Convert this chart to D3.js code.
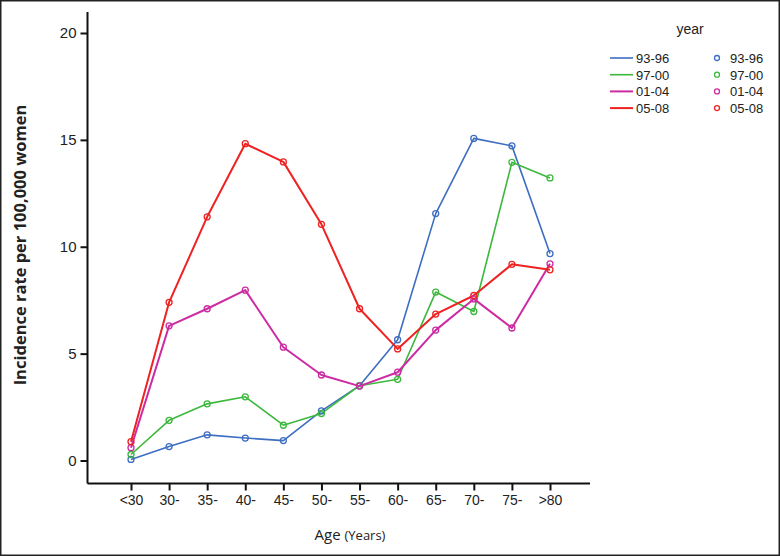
<!DOCTYPE html>
<html>
<head>
<meta charset="utf-8">
<script src="https://cdn.jsdelivr.net/npm/d3@7"></script>
<style>
  body { margin: 0; background: #fff; }
  svg { display: block; font-family: "Liberation Sans", Arial, sans-serif; }
</style>
</head>
<body>
<div id="chart"></div>
<script>
// age groups on the x axis
var ageGroups = ["<30", "30-", "35-", "40-", "45-", "50-", "55-", "60-", "65-", "70-", "75-", ">80"];
var yTicks = [0, 5, 10, 15, 20];

// incidence per 100,000 women, one array per period
var years = ["93-96", "97-00", "01-04", "05-08"];
var rate9396 = [0.05, 0.65, 1.2, 1.05, 0.93, 2.32, 3.5, 5.65, 11.55, 15.07, 14.72, 9.68];
var rate9700 = [0.28, 1.88, 2.65, 2.98, 1.65, 2.2, 3.5, 3.8, 7.88, 6.97, 13.95, 13.22];
var rate0104 = [0.6, 6.3, 7.1, 7.97, 5.3, 4.0, 3.48, 4.13, 6.1, 7.56, 6.2, 9.2];
var rate0508 = [0.88, 7.4, 11.4, 14.82, 13.97, 11.05, 7.1, 5.22, 6.85, 7.72, 9.18, 8.92];

var seriesList = [rate9396, rate9700, rate0104, rate0508];
var colors = ["#3e6ec2", "#3cb83c", "#cc2ba3", "#ee2222"];
var widths = [1.6, 1.6, 2, 2];

var W = 780, H = 556;
var svg = d3.select("#chart").append("svg")
  .attr("width", W)
  .attr("height", H);

// frame round the picture
svg.append("rect")
  .attr("x", 0.75).attr("y", 0.75)
  .attr("width", W - 1.5).attr("height", H - 1.5)
  .attr("fill", "#fff")
  .attr("stroke", "#222")
  .attr("stroke-width", 1.5);

var x = d3.scalePoint()
  .domain(ageGroups)
  .range([131, 550]);

var y = d3.scaleLinear()
  .domain([0, 20])
  .range([460.5, 33]);

var axisX = 87.5, axisY = 483.5;

// axes lines
svg.append("line")
  .attr("x1", axisX).attr("x2", axisX)
  .attr("y1", 12).attr("y2", axisY)
  .attr("stroke", "#111").attr("stroke-width", 2);
svg.append("line")
  .attr("x1", axisX).attr("x2", 590)
  .attr("y1", axisY).attr("y2", axisY)
  .attr("stroke", "#111").attr("stroke-width", 2);

var yAxis = svg.append("g")
  .attr("transform", "translate(" + axisX + ",0)")
  .call(d3.axisLeft(y).tickValues(yTicks).tickSize(7).tickPadding(4));
yAxis.select(".domain").remove();

var xAxis = svg.append("g")
  .attr("transform", "translate(0," + axisY + ")")
  .call(d3.axisBottom(x).tickSize(7).tickPadding(5));
xAxis.select(".domain").remove();

svg.selectAll(".tick line").attr("stroke", "#111").attr("stroke-width", 2);
svg.selectAll(".tick text")
  .attr("fill", "#222")
  .style("font-size", "14px")
  .style("font-family", "'Liberation Sans', Arial, sans-serif");
yAxis.selectAll(".tick text").style("font-size", "15px");

// axis titles
svg.append("text")
  .attr("transform", "translate(26,245) rotate(-90)")
  .attr("text-anchor", "middle")
  .style("font-family", "'Open Sans', sans-serif")
  .style("font-size", "16.5px")
  .style("font-weight", "bold")
  .attr("fill", "#222")
  .text("Incidence rate per 100,000 women");

var ageTitle = svg.append("text")
  .attr("x", 350).attr("y", 540)
  .attr("text-anchor", "middle")
  .style("font-family", "'Open Sans', sans-serif")
  .attr("fill", "#222");
ageTitle.append("tspan").style("font-size", "15px").text("Age ");
ageTitle.append("tspan").style("font-size", "13px").text(" (Years)");

// lines and hollow markers
var line = d3.line()
  .x(function(d, i) { return x(ageGroups[i]); })
  .y(function(d) { return y(d); });

seriesList.forEach(function(vals, k) {
  svg.append("path")
    .datum(vals)
    .attr("d", line)
    .attr("fill", "none")
    .attr("stroke", colors[k])
    .attr("stroke-width", widths[k])
    .attr("stroke-linejoin", "round");
});

seriesList.forEach(function(vals, k) {
  svg.append("g")
    .selectAll("circle")
    .data(vals)
    .enter()
    .append("circle")
    .attr("cx", function(d, i) { return x(ageGroups[i]); })
    .attr("cy", function(d) { return y(d); })
    .attr("r", 3)
    .attr("fill", "none")
    .attr("stroke", colors[k])
    .attr("stroke-width", 1.3);
});

// legend
var legend = svg.append("g").style("font-family", "'Liberation Sans', Arial, sans-serif");
legend.append("text")
  .attr("x", 690).attr("y", 34)
  .attr("text-anchor", "middle")
  .style("font-size", "14px")
  .attr("fill", "#222")
  .text("year");

years.forEach(function(lbl, k) {
  var ly = 58 + k * 16.7;
  legend.append("line")
    .attr("x1", 610).attr("x2", 633)
    .attr("y1", ly).attr("y2", ly)
    .attr("stroke", colors[k])
    .attr("stroke-width", widths[k]);
  legend.append("text")
    .attr("x", 636).attr("y", ly + 5)
    .style("font-size", "13px")
    .attr("fill", "#222")
    .text(lbl);
  legend.append("circle")
    .attr("cx", 717).attr("cy", ly)
    .attr("r", 2.5)
    .attr("fill", "none")
    .attr("stroke", colors[k])
    .attr("stroke-width", 1.3);
  legend.append("text")
    .attr("x", 730).attr("y", ly + 5)
    .style("font-size", "13px")
    .attr("fill", "#222")
    .text(lbl);
});
</script>
</body>
</html>
